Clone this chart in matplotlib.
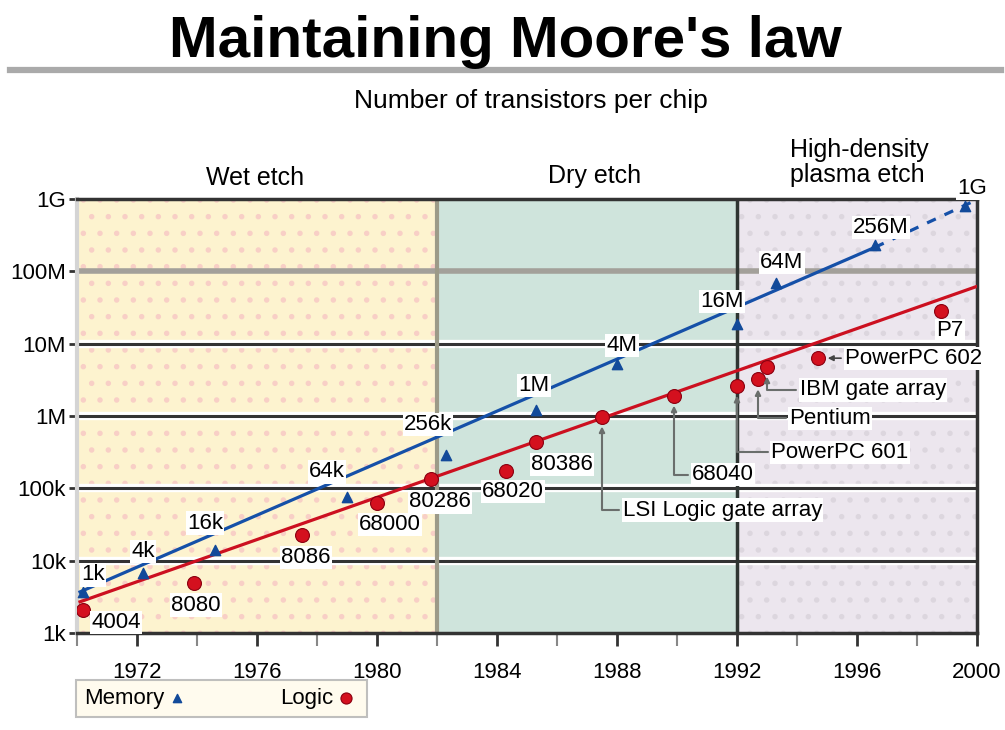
import matplotlib
matplotlib.use("Agg")
import matplotlib.pyplot as plt
import matplotlib.patheffects as pe
from matplotlib.lines import Line2D

plt.rcParams['font.family'] = ['Liberation Sans Narrow', 'Liberation Sans', 'DejaVu Sans']
plt.rcParams['hatch.linewidth'] = 1.5

# memory chips (blue triangles)
mem_labels = ["1k", "4k", "16k", "64k", "256k", "1M", "4M", "16M", "64M", "256M", "1G"]
mem_years = [1970.2, 1972.2, 1974.6, 1979.0, 1982.3, 1985.3, 1988.0, 1992.0, 1993.3, 1996.6, 1999.6]
mem_vals = [3700, 6800, 14000, 76000, 290000, 1.2e6, 5.2e6, 1.9e7, 6.8e7, 2.3e8, 8.1e8]

# logic chips (red circles)
logic_labels = ["4004", "8080", "8086", "68000", "80286", "68020", "80386",
                "LSI Logic gate array", "68040", "PowerPC 601", "Pentium",
                "IBM gate array", "PowerPC 602", "P7"]
logic_years = [1970.2, 1973.9, 1977.5, 1980.0, 1981.8, 1984.3, 1985.3,
               1987.5, 1989.9, 1992.0, 1992.7, 1993.0, 1994.7, 1998.8]
logic_vals = [2100, 4900, 23000, 63000, 135000, 175000, 440000,
              980000, 1.9e6, 2.6e6, 3.2e6, 4.8e6, 6.3e6, 2.8e7]

# trend lines
mem_trend_x = [1970.1, 1996.6]
mem_trend_y = [3700, 2.15e8]
mem_proj_x = [1996.6, 2000]
mem_proj_y = [2.15e8, 9.8e8]
logic_trend_x = [1970.1, 2000]
logic_trend_y = [2700, 6.2e7]

# process eras
eras = [(1970, 1982, "#fdf3cf", "#f8cfc6"),
        (1982, 1992, "#cfe4dc", "#cfe4dc"),
        (1992, 2000, "#ece6ee", "#dcd6de")]

ytick_vals = [1e3, 1e4, 1e5, 1e6, 1e7, 1e8, 1e9]
ytick_labels = ["1k", "10k", "100k", "1M", "10M", "100M", "1G"]
xtick_vals = [1972, 1976, 1980, 1984, 1988, 1992, 1996, 2000]

fig = plt.figure(figsize=(10.05, 7.3), dpi=100)
ax = fig.add_axes([77 / 1005, 1 - 633 / 730, 900 / 1005, 434 / 730])
ax.set_yscale("log")
ax.set_xlim(1970, 2000)
ax.set_ylim(1e3, 1e9)

for x0, x1, fc, dc in eras:
    ax.axvspan(x0, x1, facecolor=fc, edgecolor="none", zorder=0)
    if dc != fc:
        ax.axvspan(x0, x1, facecolor="none", edgecolor=dc, hatch=".", lw=0, zorder=0.5)

halo = [pe.Stroke(linewidth=6, foreground="white"), pe.Normal()]
for v in ytick_vals[1:-1]:
    if v == 1e8:
        ax.axhline(v, color="#a3a09a", lw=4, zorder=1)
    else:
        ax.axhline(v, color="#333333", lw=2.2, zorder=1, path_effects=halo)
ax.axvline(1982, color="#9c9a88", lw=3, zorder=1.2)
ax.axvline(1992, color="#2f3532", lw=2.5, zorder=1.2)

ax.plot(mem_trend_x, mem_trend_y, color="#1550a8", lw=2.3, zorder=3)
ax.plot(mem_proj_x, mem_proj_y, color="#1550a8", lw=2.3, ls=(0, (3, 3)), zorder=3)
ax.plot(logic_trend_x, logic_trend_y, color="#cc1020", lw=2.3, zorder=3)

mem_sc = ax.scatter(mem_years, mem_vals, marker="^", s=55, color="#124a9a", zorder=4, label="Memory")
log_sc = ax.scatter(logic_years, logic_vals, marker="o", s=100, color="#d4101e",
                    edgecolor="#8a0010", lw=0.8, zorder=4, label="Logic")

tb = dict(boxstyle="square,pad=0.05", fc="white", ec="none")
fs = 16
mem_off = [(10, 17), (0, 21), (-10, 27), (-20, 25), (-18, 30), (-2, 25),
           (5, 19), (-15, 22), (6, 21), (6, 18), (7, 17)]
for lab, x, y, off in zip(mem_labels, mem_years, mem_vals, mem_off):
    ax.annotate(lab, (x, y), xytext=off, textcoords="offset pixels", ha="center", va="center",
                fontsize=fs, bbox=tb, zorder=5, annotation_clip=False)

simple_off = {"4004": (33, -13), "8080": (2, -22), "8086": (4, -23), "68000": (13, -22),
              "80286": (9, -23), "68020": (7, -21), "80386": (26, -23), "P7": (9, -19)}
leader_text = {"LSI Logic gate array": (1988.2, 10 ** 4.70),
               "68040": (1990.5, 10 ** 5.19),
               "PowerPC 601": (1993.15, 10 ** 5.50),
               "Pentium": (1993.75, 10 ** 5.97),
               "IBM gate array": (1994.1, 10 ** 6.36)}
for lab, x, y in zip(logic_labels, logic_years, logic_vals):
    if lab in simple_off:
        ax.annotate(lab, (x, y), xytext=simple_off[lab], textcoords="offset pixels",
                    ha="center", va="center", fontsize=fs, bbox=tb, zorder=5)
    elif lab in leader_text:
        ax.annotate(lab, (x, y), xytext=leader_text[lab], textcoords="data",
                    ha="left", va="center", fontsize=fs, bbox=tb, zorder=5,
                    arrowprops=dict(arrowstyle="-|>", color="#6a6e6c", lw=1.5,
                                    connectionstyle="angle,angleA=0,angleB=90,rad=0",
                                    shrinkA=2, shrinkB=7, mutation_scale=8))
    else:
        ax.annotate(lab, (x, y), xytext=(1995.6, y), textcoords="data",
                    ha="left", va="center", fontsize=fs, bbox=tb, zorder=5,
                    arrowprops=dict(arrowstyle="-|>", color="#444444", lw=1.2,
                                    shrinkA=2, shrinkB=7, mutation_scale=8))

ax.set_yticks(ytick_vals)
ax.set_yticklabels(ytick_labels)
ax.minorticks_off()
ax.set_xticks(xtick_vals)
ax.set_xticklabels([str(v) for v in xtick_vals])
ax.set_xticks(range(1970, 2001, 2), minor=True)
ax.tick_params(axis="x", which="major", length=9, width=2, color="#333333", pad=12, labelsize=fs)
ax.tick_params(axis="x", which="minor", length=9, width=1.5, color="#888888")
ax.tick_params(axis="y", which="major", length=6, width=2, color="#333333", pad=2, labelsize=fs)
ax.tick_params(axis="y", which="minor", length=0)

for side in ["top", "bottom", "right"]:
    ax.spines[side].set_color("#333333")
    ax.spines[side].set_linewidth(2.5)
ax.spines["left"].set_color("#d4d4d4")
ax.spines["left"].set_linewidth(3)

fig.text(0.503, 0.943, "Maintaining Moore's law", ha="center", va="center",
         fontsize=42, fontweight="bold", family=["Liberation Sans", "DejaVu Sans"])
fig.add_artist(Line2D([0.01, 0.996], [1 - 70 / 730] * 2, color="#aaaaaa", lw=4.5))
fig.text(0.528, 0.862, "Number of transistors per chip", ha="center", va="center", fontsize=19)
fig.text(0.254, 0.756, "Wet etch", ha="center", va="center", fontsize=18)
fig.text(0.592, 0.759, "Dry etch", ha="center", va="center", fontsize=18)
fig.text(0.786, 0.777, "High-density\nplasma etch", ha="left", va="center", fontsize=18,
         linespacing=1.05)

leg = fig.legend(handles=[mem_sc, log_sc], loc="lower left", bbox_to_anchor=(65 / 1005, 2 / 730),
                 ncol=2, markerfirst=False, fontsize=16, frameon=True, fancybox=False,
                 handletextpad=0.0, handlelength=1.2, columnspacing=4, borderpad=0.35,
                 markerscale=0.8)
leg.get_frame().set_facecolor("#fffbea")
leg.get_frame().set_edgecolor("#b0b0b0")
leg.get_frame().set_linewidth(1.5)

fig.savefig("out.png", dpi=100)
